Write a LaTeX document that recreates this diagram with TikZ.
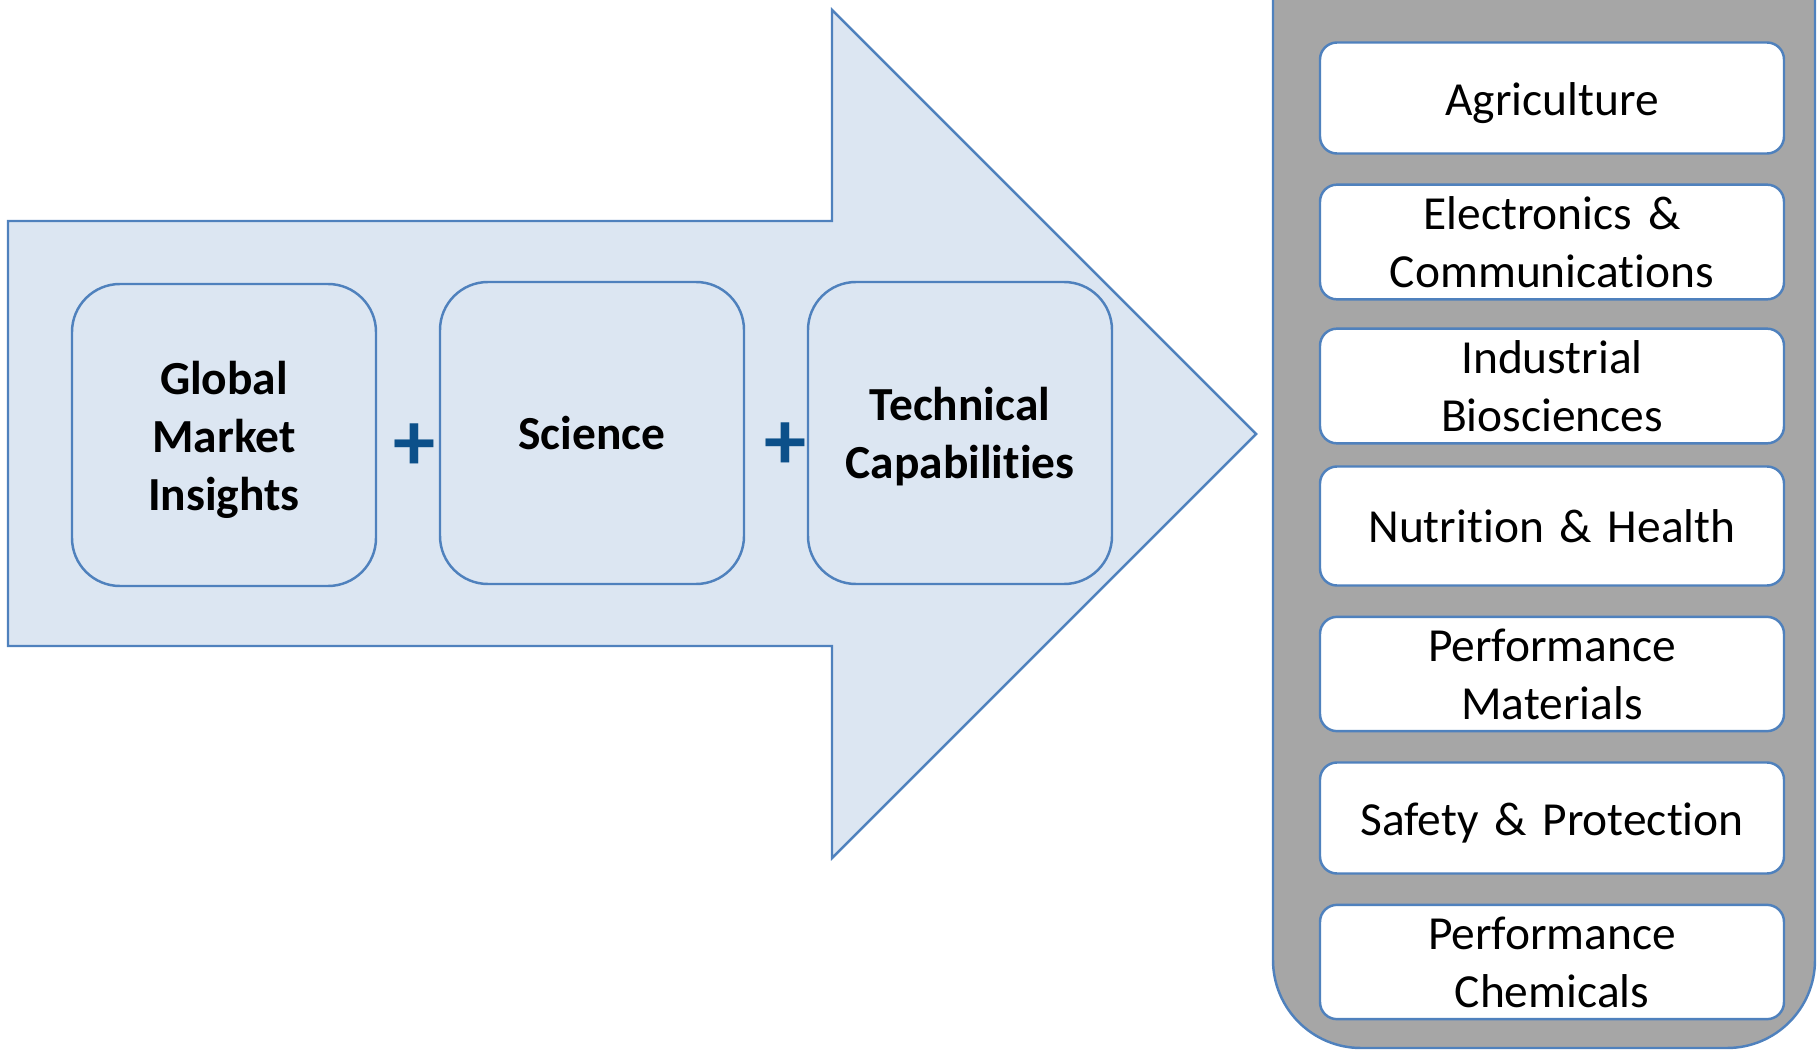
\documentclass[tikz,border=0pt]{standalone}
\usepackage{fontspec}
\setmainfont{Carlito}[Ligatures=NoCommon]
\usetikzlibrary{positioning}
\definecolor{edgeblue}{HTML}{4F81BD}
\definecolor{paleblue}{HTML}{DCE6F2}
\definecolor{plusblue}{RGB}{12,80,138}
\definecolor{panelgray}{HTML}{A6A6A6}
\tikzstyle{pillar} = [rectangle, rounded corners=0.48cm, minimum width=3.04cm, minimum height=3.02cm, text centered, text width=2.8cm, draw=edgeblue, fill=paleblue, line width=0.7pt, font=\fontsize{13.5}{16.5}\selectfont\bfseries]
\tikzstyle{sector} = [rectangle, rounded corners=0.17cm, minimum width=4.64cm, minimum height=1.11cm, text centered, text width=4.4cm, draw=edgeblue, fill=white, line width=0.7pt, font=\fontsize{13.5}{16.5}\selectfont]
\tikzstyle{plus} = [inner sep=0pt, text=plusblue, font=\fontsize{24}{28}\selectfont\bfseries]
\tikzset{
	bigarrow/.style = {draw=edgeblue, fill=paleblue, line width=0.7pt, line join=miter},
	panel/.style = {draw=edgeblue, fill=panelgray, line width=0.7pt, rounded corners=0.88cm},
	lowered/.style = {execute at begin node={\rule{0pt}{#1}}}
}

\begin{document}
\begin{tikzpicture}[node distance=1.44cm]
\useasboundingbox (0,0) rectangle (18.18,10.5);
\clip (0,0) rectangle (18.18,10.5);

% Big arrow
\draw [bigarrow] (0.08,8.29) -- (8.32,8.29) -- (8.32,10.40) -- (12.56,6.16)
	-- (8.32,1.92) -- (8.32,4.04) -- (0.08,4.04) -- cycle;

% Placement of nodes
\node (insights) [pillar, lowered=12.4pt] at (2.24,6.15) {Global\\ Market\\ Insights};
\node (science) [pillar, right of=insights, xshift=2.24cm, yshift=0.02cm] {Science};
\node (technical) [pillar, lowered=11.7pt, right of=science, xshift=2.24cm] {Technical\\ Capabilities};
\node (plusA) [plus, right of=insights, xshift=0.46cm, yshift=-0.12cm] {+};
\node (plusB) [plus, right of=science, xshift=0.49cm, yshift=-0.135cm] {+};

% Markets panel
\draw [panel] (12.73,0.02) rectangle (18.15,11.6);

\node (agri) [sector, lowered=12pt] at (15.52,9.52) {Agriculture};
\node (elec) [sector, below of=agri] {Electronics \&\\ Communications};
\node (indbio) [sector, below of=elec] {Industrial\\ Biosciences};
\node (nutri) [sector, below of=indbio, minimum height=1.19cm, yshift=0.04cm] {Nutrition \& Health};
\node (perfmat) [sector, below of=nutri, yshift=-0.04cm] {Performance\\ Materials};
\node (safety) [sector, lowered=12.3pt, below of=perfmat] {Safety \& Protection};
\node (perfchem) [sector, below of=safety] {Performance\\ Chemicals};

\end{tikzpicture}
\end{document}
